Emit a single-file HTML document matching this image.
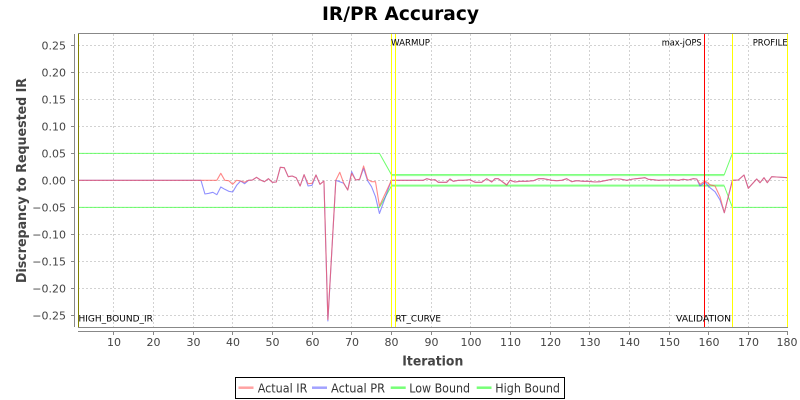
<!DOCTYPE html>
<html>
<head>
<meta charset="utf-8">
<style>
html,body{margin:0;padding:0;background:#fff;}
svg{display:block;}
text{font-family:"DejaVu Sans","Liberation Sans",sans-serif;}
</style>
</head>
<body>
<svg width="800" height="400" viewBox="0 0 800 400" xmlns="http://www.w3.org/2000/svg">
<rect x="0" y="0" width="800" height="400" fill="#fff"/>

<!-- Title -->
<text x="322" y="20" font-size="19" font-weight="bold" fill="#000" textLength="157" lengthAdjust="spacingAndGlyphs">IR/PR Accuracy</text>

<!-- Plot background -->
<rect x="78.5" y="33.5" width="709" height="294" fill="#fff"/>

<!-- Gridlines -->
<g stroke="#d2d2d2" stroke-width="1" stroke-dasharray="2,2" fill="none">
<line x1="113.5" y1="34" x2="113.5" y2="327"/>
<line x1="153.5" y1="34" x2="153.5" y2="327"/>
<line x1="193.5" y1="34" x2="193.5" y2="327"/>
<line x1="232.5" y1="34" x2="232.5" y2="327"/>
<line x1="272.5" y1="34" x2="272.5" y2="327"/>
<line x1="312.5" y1="34" x2="312.5" y2="327"/>
<line x1="351.5" y1="34" x2="351.5" y2="327"/>
<line x1="391.5" y1="34" x2="391.5" y2="327"/>
<line x1="431.5" y1="34" x2="431.5" y2="327"/>
<line x1="470.5" y1="34" x2="470.5" y2="327"/>
<line x1="510.5" y1="34" x2="510.5" y2="327"/>
<line x1="550.5" y1="34" x2="550.5" y2="327"/>
<line x1="589.5" y1="34" x2="589.5" y2="327"/>
<line x1="629.5" y1="34" x2="629.5" y2="327"/>
<line x1="669.5" y1="34" x2="669.5" y2="327"/>
<line x1="708.5" y1="34" x2="708.5" y2="327"/>
<line x1="748.5" y1="34" x2="748.5" y2="327"/>
<line x1="78" y1="45.5" x2="788" y2="45.5"/>
<line x1="78" y1="72.5" x2="788" y2="72.5"/>
<line x1="78" y1="99.5" x2="788" y2="99.5"/>
<line x1="78" y1="126.5" x2="788" y2="126.5"/>
<line x1="78" y1="153.5" x2="788" y2="153.5"/>
<line x1="78" y1="180.5" x2="788" y2="180.5"/>
<line x1="78" y1="207.5" x2="788" y2="207.5"/>
<line x1="78" y1="234.5" x2="788" y2="234.5"/>
<line x1="78" y1="261.5" x2="788" y2="261.5"/>
<line x1="78" y1="288.5" x2="788" y2="288.5"/>
<line x1="78" y1="315.5" x2="788" y2="315.5"/>
</g>

<!-- Bounds (green) -->
<g fill="none" stroke="#55ff55" stroke-opacity="0.85" stroke-linejoin="round">
<polyline stroke-width="1" points="78,153.4 379.5,153.4 391.4,174.6 724.3,174.6 732.4,153.4 788,153.4"/>
<polyline stroke-width="1" points="78,207.4 379.5,207.4 391.4,186 724.3,186 732.4,207.4 788,207.4"/>
<line x1="391.4" y1="175.6" x2="724.3" y2="175.6" stroke-width="1" stroke-opacity="0.6"/>
<line x1="391.4" y1="185" x2="724.3" y2="185" stroke-width="1" stroke-opacity="0.6"/>
</g>

<!-- Actual PR (blue) -->
<polyline fill="none" stroke="#5555ff" stroke-opacity="0.65" stroke-width="1.1" stroke-linejoin="round" points="
78,180.3 200.96,180.3 204.93,194 208.89,193.3 212.86,192.3 216.83,194.7 220.79,187 224.76,189.3 228.73,191.3 232.69,192 236.66,185.3 240.63,181 244.59,183.7
248.56,180.3 252.53,180 256.49,177.3 260.46,180 264.43,181.7 268.39,178.7 272.36,182.3 276.33,182 280.29,167.3 284.26,167.7 288.23,176.7 292.19,176 296.16,177.7
300.13,186 304.09,174.7 308.06,186 312.03,185.3 315.99,175 319.96,184.3 323.93,181 327.89,321 335.83,180.3 339.79,181.7 343.76,183.3 347.73,190 351.69,171.7
355.66,180 359.63,179.3 363.59,168.3 367.56,180.7 371.53,186.7 375.49,196.7 379.46,213.5 391.4,180.3
413.3,180.3 423.3,180.3 426.7,178.7 431.7,180 435,179.7 438.3,182.3 446.7,182.3 450,179 453.3,181.3 458.3,180.3 463.3,180.3 470,179.7 475,182.3 481.7,182.3
486.7,178.7 491.7,182 495,178.7 498.3,178.7 506.7,185 510,180.3 515,182 520,181.3 526.7,181.3 533.3,180.7 538.3,178.7 543.3,178.7 546.7,179.3 551.7,180.3
556.7,180.7 561.7,180.3 566.7,178.7 571.7,181.7 576.7,180.7 583.3,181.3 588.3,181.3 595,182 600,181.7 606.7,180.3 613.3,179 620,179 626.7,180.3 633.3,179
640,178.3 645,177.7 648.3,179.3 653.3,179.7 658.3,180.3 663.3,180 668.3,180 673.3,179.7 678.3,180.3 683.3,179.3 688.3,180 693.3,178.7 696.7,179
700,186 705,182.3 710,187.7 715,191.7 720,200 724.3,212.7 732.4,180.3
738.3,180 744,175 748.3,188.3 753.3,182.7 756.7,179 760,182.7 764,177.7 767.3,182.7 771.7,176.7 776.7,177 788,177.7"/>

<!-- Actual IR (red) -->
<polyline fill="none" stroke="#ff5555" stroke-opacity="0.7" stroke-width="1.1" stroke-linejoin="round" points="
78,180.3 216.83,180.3 220.79,173.3 224.76,180.3 228.73,180.7 232.69,184.3 236.66,180.3 240.63,181 244.59,182.3
248.56,180.3 252.53,180 256.49,177.3 260.46,180 264.43,181.7 268.39,178.7 272.36,182.3 276.33,182 280.29,167.3 284.26,167.7 288.23,176.7 292.19,176 296.16,177.7
300.13,186 304.09,174.7 308.06,183.7 312.03,183.3 315.99,175 319.96,184.3 323.93,181 327.89,319.5 335.83,180.3 339.79,172.3 343.76,183.3 347.73,190 351.69,173.3
355.66,180 359.63,179.3 363.59,166 367.56,179.3 371.53,181.7 375.49,181.7 379.46,206 391.4,180.3
413.3,180.3 423.3,180.3 426.7,178.7 431.7,180 435,179.7 438.3,182.3 446.7,182.3 450,179 453.3,181.3 458.3,180.3 463.3,180.3 470,179.7 475,182.3 481.7,182.3
486.7,178.7 491.7,182 495,178.7 498.3,178.7 506.7,185 510,180.3 515,182 520,181.3 526.7,181.3 533.3,180.7 538.3,178.7 543.3,178.7 546.7,179.3 551.7,180.3
556.7,180.7 561.7,180.3 566.7,178.7 571.7,181.7 576.7,180.7 583.3,181.3 588.3,181.3 595,182 600,181.7 606.7,180.3 613.3,179 620,179 626.7,180.3 633.3,179
640,178.3 645,177.7 648.3,179.3 653.3,179.7 658.3,180.3 663.3,180 668.3,180 673.3,179.7 678.3,180.3 683.3,179.3 688.3,180 693.3,178.7 696.7,179
700,184.3 705,181 710,184.7 715,186 720,196.7 724.3,212.7 732.4,180.3
738.3,180 744,175 748.3,188.3 753.3,182.7 756.7,179 760,182.7 764,177.7 767.3,182.7 771.7,176.7 776.7,177 788,177.7"/>

<!-- Plot border -->
<rect x="78.5" y="33.5" width="709" height="294" fill="none" stroke="#888" stroke-width="1"/>

<!-- Markers -->
<g stroke-width="1">
<line x1="78.5" y1="34" x2="78.5" y2="327" stroke="#808000"/>
<line x1="391.5" y1="34" x2="391.5" y2="327" stroke="#ffff00"/>
<line x1="395.5" y1="34" x2="395.5" y2="327" stroke="#ffff00"/>
<line x1="704.5" y1="34" x2="704.5" y2="327" stroke="#ff0000"/>
<line x1="732.5" y1="34" x2="732.5" y2="327" stroke="#ffff00"/>
<line x1="787.5" y1="34" x2="787.5" y2="327" stroke="#ffff00"/>
</g>
<g font-size="9" fill="#000">
<text x="78.5" y="321.5" textLength="74.4" lengthAdjust="spacingAndGlyphs">HIGH_BOUND_IR</text>
<text x="391" y="45.5" textLength="39" lengthAdjust="spacingAndGlyphs">WARMUP</text>
<text x="395.5" y="321.5" textLength="45.5" lengthAdjust="spacingAndGlyphs">RT_CURVE</text>
<text x="661.7" y="45.5" textLength="40" lengthAdjust="spacingAndGlyphs">max-jOPS</text>
<text x="676" y="321.5" textLength="55" lengthAdjust="spacingAndGlyphs">VALIDATION</text>
<text x="752.7" y="45.5" textLength="35" lengthAdjust="spacingAndGlyphs">PROFILE</text>
</g>

<!-- Axes -->
<g stroke="#888" stroke-width="1" fill="none">
<line x1="74.5" y1="34" x2="74.5" y2="327"/>
<line x1="78" y1="331.5" x2="788" y2="331.5"/>
<line x1="71" y1="45.5" x2="74.5" y2="45.5"/>
<line x1="71" y1="72.5" x2="74.5" y2="72.5"/>
<line x1="71" y1="99.5" x2="74.5" y2="99.5"/>
<line x1="71" y1="126.5" x2="74.5" y2="126.5"/>
<line x1="71" y1="153.5" x2="74.5" y2="153.5"/>
<line x1="71" y1="180.5" x2="74.5" y2="180.5"/>
<line x1="71" y1="207.5" x2="74.5" y2="207.5"/>
<line x1="71" y1="234.5" x2="74.5" y2="234.5"/>
<line x1="71" y1="261.5" x2="74.5" y2="261.5"/>
<line x1="71" y1="288.5" x2="74.5" y2="288.5"/>
<line x1="71" y1="315.5" x2="74.5" y2="315.5"/>
<line x1="113.5" y1="331.5" x2="113.5" y2="335"/>
<line x1="153.5" y1="331.5" x2="153.5" y2="335"/>
<line x1="193.5" y1="331.5" x2="193.5" y2="335"/>
<line x1="232.5" y1="331.5" x2="232.5" y2="335"/>
<line x1="272.5" y1="331.5" x2="272.5" y2="335"/>
<line x1="312.5" y1="331.5" x2="312.5" y2="335"/>
<line x1="351.5" y1="331.5" x2="351.5" y2="335"/>
<line x1="391.5" y1="331.5" x2="391.5" y2="335"/>
<line x1="431.5" y1="331.5" x2="431.5" y2="335"/>
<line x1="470.5" y1="331.5" x2="470.5" y2="335"/>
<line x1="510.5" y1="331.5" x2="510.5" y2="335"/>
<line x1="550.5" y1="331.5" x2="550.5" y2="335"/>
<line x1="589.5" y1="331.5" x2="589.5" y2="335"/>
<line x1="629.5" y1="331.5" x2="629.5" y2="335"/>
<line x1="669.5" y1="331.5" x2="669.5" y2="335"/>
<line x1="708.5" y1="331.5" x2="708.5" y2="335"/>
<line x1="748.5" y1="331.5" x2="748.5" y2="335"/>
<line x1="787.5" y1="331.5" x2="787.5" y2="335"/>
</g>

<!-- Y tick labels -->
<g font-size="11" fill="#444" text-anchor="end">
<text x="66" y="49.5">0.25</text>
<text x="66" y="76.5">0.20</text>
<text x="66" y="103.5">0.15</text>
<text x="66" y="130.5">0.10</text>
<text x="66" y="157.5">0.05</text>
<text x="66" y="184.5">0.00</text>
<text x="66" y="211.5">−0.05</text>
<text x="66" y="238.5">−0.10</text>
<text x="66" y="265.5">−0.15</text>
<text x="66" y="292.5">−0.20</text>
<text x="66" y="319.5">−0.25</text>
</g>

<!-- X tick labels -->
<g font-size="11" fill="#444" text-anchor="middle">
<text x="114" y="346">10</text>
<text x="153.5" y="346">20</text>
<text x="193.5" y="346">30</text>
<text x="233" y="346">40</text>
<text x="272.5" y="346">50</text>
<text x="312.5" y="346">60</text>
<text x="352" y="346">70</text>
<text x="391.5" y="346">80</text>
<text x="431.5" y="346">90</text>
<text x="471" y="346">100</text>
<text x="510.5" y="346">110</text>
<text x="550.5" y="346">120</text>
<text x="590" y="346">130</text>
<text x="629.5" y="346">140</text>
<text x="669.5" y="346">150</text>
<text x="709" y="346">160</text>
<text x="748.5" y="346">170</text>
<text x="787" y="346">180</text>
</g>

<!-- Axis labels -->
<text x="402.3" y="365.5" font-size="13" font-weight="bold" fill="#444" textLength="61" lengthAdjust="spacingAndGlyphs">Iteration</text>
<text transform="translate(26,180.5) rotate(-90)" x="0" y="0" font-size="13" font-weight="bold" fill="#444" text-anchor="middle" textLength="205" lengthAdjust="spacingAndGlyphs">Discrepancy to Requested IR</text>

<!-- Legend -->
<rect x="235.5" y="377.5" width="329" height="21" fill="#fff" stroke="#000" stroke-width="1"/>
<g stroke-width="2.5" stroke-opacity="0.55">
<line x1="238.5" y1="387.7" x2="253.5" y2="387.7" stroke="#ff5555"/>
<line x1="312" y1="387.7" x2="327" y2="387.7" stroke="#5555ff"/>
<line x1="390.7" y1="387.7" x2="405.7" y2="387.7" stroke="#55ff55" stroke-opacity="0.8"/>
<line x1="476.7" y1="387.7" x2="491.5" y2="387.7" stroke="#55ff55" stroke-opacity="0.8"/>
</g>
<g font-size="12" fill="#333">
<text x="257.7" y="392.5" textLength="49.7" lengthAdjust="spacingAndGlyphs">Actual IR</text>
<text x="331" y="392.5" textLength="54" lengthAdjust="spacingAndGlyphs">Actual PR</text>
<text x="409.3" y="392.5" textLength="60.7" lengthAdjust="spacingAndGlyphs">Low Bound</text>
<text x="495.3" y="392.5" textLength="64.7" lengthAdjust="spacingAndGlyphs">High Bound</text>
</g>
</svg>
</body>
</html>
